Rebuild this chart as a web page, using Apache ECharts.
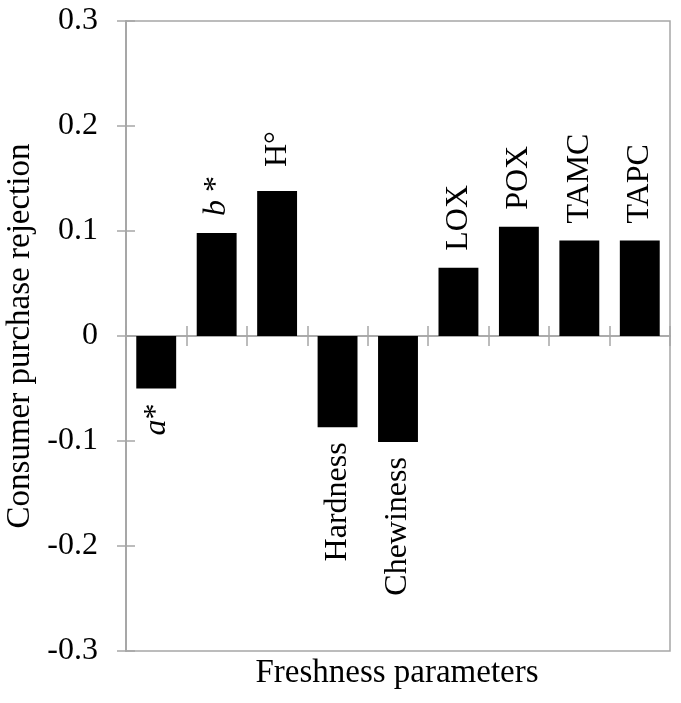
<!DOCTYPE html>
<html>
<head>
<meta charset="utf-8">
<script src="https://cdn.jsdelivr.net/npm/echarts@6/dist/echarts.min.js"></script>
<style>html,body{margin:0;padding:0;background:#fff}#main{width:681px;height:703px}</style>
</head>
<body>
<div id="main"></div>
<script>
var categories = ['a*', 'b*', 'H°', 'Hardness', 'Chewiness', 'LOX', 'POX', 'TAMC', 'TAPC'];
var labelTexts = ['{i|a}*', '{i|b} *', 'H°', 'Hardness', 'Chewiness', 'LOX', 'POX', 'TAMC', 'TAPC'];
var values = [-0.05, 0.098, 0.138, -0.087, -0.101, 0.065, 0.104, 0.091, 0.091];

var myChart = echarts.init(document.getElementById('main'));
var font = 'Liberation Serif';
var grey = '#a6a6a6';

var data = values.map(function (v, i) {
    return {
        value: v,
        label: {
            position: v >= 0 ? 'top' : 'bottom',
            align: v >= 0 ? 'left' : 'right',
            distance: v >= 0 ? (categories[i] === 'H°' ? 24 : 17) : 15,
            formatter: labelTexts[i]
        }
    };
});

option = {
    animation: false,
    grid: {
        left: 126, right: 11, top: 21, bottom: 52,
        outerBoundsMode: 'none',
        show: true, borderColor: grey, borderWidth: 1.5
    },
    graphic: [{
        type: 'text', x: 397, y: 657,
        style: { text: 'Freshness parameters', font: '33px "Liberation Serif"', fill: '#000', align: 'center', verticalAlign: 'top' }
    }],
    xAxis: [{
        type: 'category',
        data: categories,
        axisLine: { onZero: true, lineStyle: { color: grey, width: 1.5 } },
        axisTick: { show: true, interval: 0, length: 10, lineStyle: { color: grey, width: 1.5 } },
        axisLabel: { show: false }
    }, {
        type: 'category',
        data: categories,
        position: 'bottom',
        axisLine: { onZero: true, lineStyle: { color: grey, width: 1.5 } },
        axisTick: { show: true, interval: 0, inside: true, length: 10, lineStyle: { color: grey, width: 1.5 } },
        axisLabel: { show: false }
    }],
    yAxis: [{
        type: 'value',
        min: -0.3, max: 0.3, interval: 0.1,
        name: 'Consumer purchase rejection',
        nameLocation: 'middle',
        nameGap: 86,
        nameTextStyle: { fontFamily: font, fontSize: 33, color: '#000' },
        splitLine: { show: false },
        axisLine: { show: true, onZero: false, lineStyle: { color: grey, width: 1.5 } },
        axisTick: { show: true, length: 9, lineStyle: { color: grey, width: 1.5 } },
        axisLabel: {
            margin: 28, fontFamily: font, fontSize: 32, color: '#000',
            formatter: function (v) { return Math.abs(v) < 1e-9 ? '0' : v.toFixed(1); }
        }
    }, {
        type: 'value',
        min: -0.3, max: 0.3, interval: 0.1,
        position: 'left',
        offset: 0,
        splitLine: { show: false },
        axisLine: { show: true, onZero: false, lineStyle: { color: grey, width: 1.5 } },
        axisTick: { show: true, inside: true, length: 9, lineStyle: { color: grey, width: 1.5 } },
        axisLabel: { show: false }
    }],
    series: [{
        type: 'bar',
        data: data,
        barWidth: '66%',
        itemStyle: { color: '#000' },
        label: {
            show: true,
            rotate: 90,
            verticalAlign: 'middle',
            fontFamily: font,
            fontSize: 32,
            color: '#000',
            rich: { i: { fontStyle: 'italic', fontFamily: font, fontSize: 32, color: '#000' } }
        }
    }, {
        type: 'line',
        xAxisIndex: 1,
        yAxisIndex: 1,
        symbol: 'none',
        data: categories.map(function () { return null; })
    }]
};

myChart.setOption(option);
</script>
</body>
</html>
